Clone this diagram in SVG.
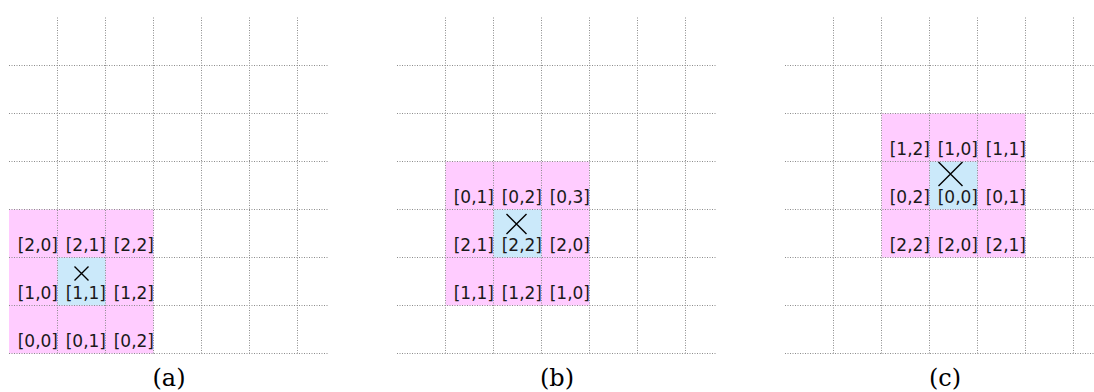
<svg xmlns="http://www.w3.org/2000/svg" width="1094" height="392" viewBox="0 0 1094 392">
<style>
.bg{fill:#ffffff}
.pk{fill:#ffccff}
.bl{fill:#cbe9fa}
.grid line{stroke:#8c8c8c;stroke-width:1;stroke-dasharray:1 1.5}
.lbl{font-family:"DejaVu Sans",Verdana,sans-serif;font-size:17px;fill:#1a1a1a;text-anchor:end}
.cap{font-family:"DejaVu Serif","Liberation Serif",serif;font-size:24px;fill:#000;text-anchor:middle}
.x{stroke:#000;stroke-width:1.4;fill:none}
</style>
<defs>
<g id="gridlines" class="grid">
<line x1="9" y1="65.5" x2="328" y2="65.5"/>
<line x1="9" y1="113.5" x2="328" y2="113.5"/>
<line x1="9" y1="161.5" x2="328" y2="161.5"/>
<line x1="9" y1="209.5" x2="328" y2="209.5"/>
<line x1="9" y1="257.5" x2="328" y2="257.5"/>
<line x1="9" y1="305.5" x2="328" y2="305.5"/>
<line x1="9" y1="353.5" x2="328" y2="353.5"/>
<line x1="57.5" y1="17.5" x2="57.5" y2="353.5"/>
<line x1="105.5" y1="17.5" x2="105.5" y2="353.5"/>
<line x1="153.5" y1="17.5" x2="153.5" y2="353.5"/>
<line x1="201.5" y1="17.5" x2="201.5" y2="353.5"/>
<line x1="249.5" y1="17.5" x2="249.5" y2="353.5"/>
<line x1="297.5" y1="17.5" x2="297.5" y2="353.5"/>
</g>
</defs>
<rect class="bg" x="0" y="0" width="1094" height="392"/>

<!-- Panel (a) -->
<g id="panel-a">
<rect class="pk" x="9" y="209.5" width="144.5" height="144"/>
<rect class="bl" x="57.5" y="257.5" width="48" height="48"/>
<use href="#gridlines"/>
<g id="a-20"><text class="lbl" x="58" y="250.5">[2,0]</text></g>
<g id="a-21"><text class="lbl" x="106" y="250.5">[2,1]</text></g>
<g id="a-22"><text class="lbl" x="154" y="250.5">[2,2]</text></g>
<g id="a-10"><text class="lbl" x="58" y="298.5">[1,0]</text></g>
<g id="a-11"><path class="x" d="M74.5,266.5 L88.5,280.5 M88.5,266.5 L74.5,280.5"/><text class="lbl" x="106" y="298.5">[1,1]</text></g>
<g id="a-12"><text class="lbl" x="154" y="298.5">[1,2]</text></g>
<g id="a-00"><text class="lbl" x="58" y="346.5">[0,0]</text></g>
<g id="a-01"><text class="lbl" x="106" y="346.5">[0,1]</text></g>
<g id="a-02"><text class="lbl" x="154" y="346.5">[0,2]</text></g>
<text class="cap" x="169" y="386">(a)</text>
</g>

<!-- Panel (b) -->
<g id="panel-b">
<rect class="pk" x="445.5" y="161.5" width="144" height="144"/>
<rect class="bl" x="493.5" y="209.5" width="48" height="48"/>
<use href="#gridlines" x="388"/>
<g id="b-01"><text class="lbl" x="494" y="202.5">[0,1]</text></g>
<g id="b-02"><text class="lbl" x="542" y="202.5">[0,2]</text></g>
<g id="b-03"><text class="lbl" x="590" y="202.5">[0,3]</text></g>
<g id="b-21"><text class="lbl" x="494" y="250.5">[2,1]</text></g>
<g id="b-22"><path class="x" d="M506.5,214 L526.5,234 M526.5,214 L506.5,234"/><text class="lbl" x="542" y="250.5">[2,2]</text></g>
<g id="b-20"><text class="lbl" x="590" y="250.5">[2,0]</text></g>
<g id="b-11"><text class="lbl" x="494" y="298.5">[1,1]</text></g>
<g id="b-12"><text class="lbl" x="542" y="298.5">[1,2]</text></g>
<g id="b-10"><text class="lbl" x="590" y="298.5">[1,0]</text></g>
<text class="cap" x="557" y="386">(b)</text>
</g>

<!-- Panel (c) -->
<g id="panel-c">
<rect class="pk" x="881.5" y="113.5" width="144" height="144"/>
<rect class="bl" x="929.5" y="161.5" width="48" height="48"/>
<use href="#gridlines" x="776"/>
<g id="c-12"><text class="lbl" x="930" y="154.5">[1,2]</text></g>
<g id="c-10"><text class="lbl" x="978" y="154.5">[1,0]</text></g>
<g id="c-11"><text class="lbl" x="1026" y="154.5">[1,1]</text></g>
<g id="c-02"><text class="lbl" x="930" y="202.5">[0,2]</text></g>
<g id="c-00"><path class="x" d="M938.5,162 L962.5,186 M962.5,162 L938.5,186"/><text class="lbl" x="978" y="202.5">[0,0]</text></g>
<g id="c-01"><text class="lbl" x="1026" y="202.5">[0,1]</text></g>
<g id="c-22"><text class="lbl" x="930" y="250.5">[2,2]</text></g>
<g id="c-20"><text class="lbl" x="978" y="250.5">[2,0]</text></g>
<g id="c-21"><text class="lbl" x="1026" y="250.5">[2,1]</text></g>
<text class="cap" x="945" y="386">(c)</text>
</g>
<g id="connectors"/>
</svg>
